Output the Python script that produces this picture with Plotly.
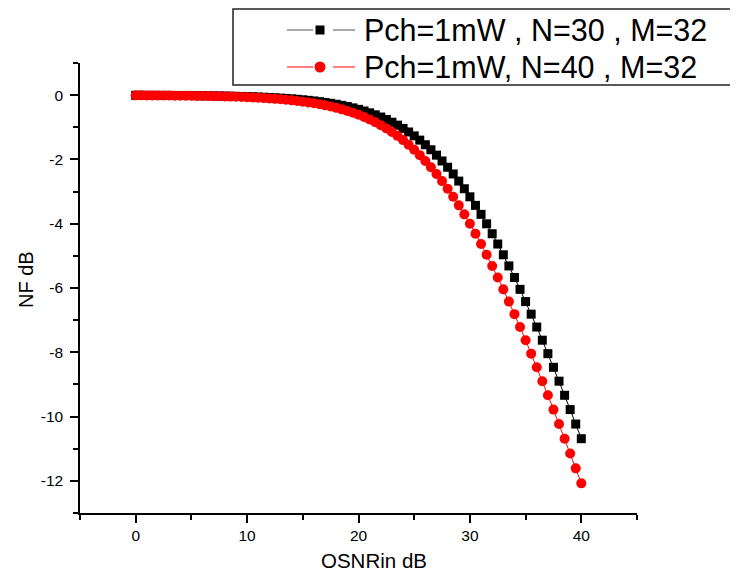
import plotly.graph_objects as go

osnr_in_db = [0, 0.5, 1, 1.5, 2, 2.5, 3, 3.5, 4, 4.5,
              5, 5.5, 6, 6.5, 7, 7.5, 8, 8.5, 9, 9.5,
              10, 10.5, 11, 11.5, 12, 12.5, 13, 13.5, 14, 14.5,
              15, 15.5, 16, 16.5, 17, 17.5, 18, 18.5, 19, 19.5,
              20, 20.5, 21, 21.5, 22, 22.5, 23, 23.5, 24, 24.5,
              25, 25.5, 26, 26.5, 27, 27.5, 28, 28.5, 29, 29.5,
              30, 30.5, 31, 31.5, 32, 32.5, 33, 33.5, 34, 34.5,
              35, 35.5, 36, 36.5, 37, 37.5, 38, 38.5, 39, 39.5,
              40]

nf_n30 = [-0.005, -0.005, -0.006, -0.007, -0.007, -0.008, -0.009, -0.010, -0.012, -0.013,
          -0.015, -0.017, -0.019, -0.021, -0.023, -0.026, -0.029, -0.033, -0.037, -0.041,
          -0.046, -0.052, -0.058, -0.065, -0.073, -0.082, -0.092, -0.103, -0.115, -0.129,
          -0.145, -0.162, -0.181, -0.203, -0.227, -0.254, -0.284, -0.318, -0.355, -0.396,
          -0.442, -0.493, -0.550, -0.612, -0.681, -0.758, -0.842, -0.934, -1.035, -1.146,
          -1.267, -1.399, -1.543, -1.699, -1.867, -2.048, -2.243, -2.452, -2.674, -2.912,
          -3.163, -3.429, -3.709, -4.003, -4.311, -4.632, -4.967, -5.313, -5.672, -6.042,
          -6.423, -6.814, -7.215, -7.624, -8.042, -8.467, -8.899, -9.338, -9.783, -10.233,
          -10.688]

nf_n40 = [-0.007, -0.007, -0.008, -0.009, -0.010, -0.012, -0.013,
          -0.015, -0.017, -0.019, -0.021, -0.023, -0.026, -0.029, -0.033, -0.037, -0.041,
          -0.046, -0.052, -0.058, -0.065, -0.073, -0.082, -0.092, -0.103, -0.115, -0.129,
          -0.145, -0.162, -0.181, -0.203, -0.227, -0.254, -0.284, -0.318, -0.355, -0.396,
          -0.442, -0.493, -0.550, -0.612, -0.681, -0.758, -0.842, -0.934, -1.035, -1.146,
          -1.267, -1.399, -1.543, -1.699, -1.867, -2.048, -2.243, -2.452, -2.674, -2.912,
          -3.163, -3.429, -3.709, -4.003, -4.311, -4.632, -4.967, -5.313, -5.672, -6.042,
          -6.423, -6.814, -7.215, -7.624, -8.042, -8.467, -8.899, -9.338, -9.783, -10.233,
          -10.688, -11.147, -11.611, -12.078]

series_names = ["Pch=1mW , N=30 , M=32", "Pch=1mW, N=40 , M=32"]
x_title = "OSNRin dB"
y_title = "NF dB"
x_tick_vals = [0, 10, 20, 30, 40]
x_tick_text = ["0", "10", "20", "30", "40"]
y_tick_vals = [0, -2, -4, -6, -8, -10, -12]
y_tick_text = ["0", "-2", "-4", "-6", "-8", "-10", "-12"]

# page body has an 8px margin; lay out in window pixels and shift
OFF = 8
W, H = 738 - OFF, 571 - OFF
PLOT_LEFT, PLOT_RIGHT, PLOT_TOP, PLOT_BOTTOM = 80, 637, 63, 513
L = PLOT_LEFT - OFF
R = W - (PLOT_RIGHT - OFF)
T = PLOT_TOP - OFF
B = H - (PLOT_BOTTOM - OFF)
PW, PH = W - L - R, H - T - B
FONT = "Arial, Liberation Sans, sans-serif"


def px(x):
    return (x - OFF - L) / PW


def py(y):
    return (H - B - (y - OFF)) / PH


fig = go.Figure()
fig.add_trace(go.Scatter(
    x=osnr_in_db, y=nf_n30, mode="lines+markers", name=series_names[0],
    line=dict(color="#000000", width=1),
    marker=dict(symbol="square", size=9, color="#000000"),
    showlegend=False))
fig.add_trace(go.Scatter(
    x=osnr_in_db, y=nf_n40, mode="lines+markers", name=series_names[1],
    line=dict(color="#ff0000", width=1),
    marker=dict(symbol="circle", size=10, color="#ff0000"),
    showlegend=False))

axis_common = dict(
    showline=True, linecolor="black", linewidth=1.5, mirror=False,
    showgrid=False, zeroline=False,
    ticks="outside", ticklen=8, tickwidth=1.5, tickcolor="black",
    tickfont=dict(family=FONT, size=15.5, color="black"),
)
fig.update_xaxes(range=[-5, 45], tickvals=x_tick_vals, ticktext=x_tick_text,
                 minor=dict(ticks="outside", ticklen=5, tickwidth=1.5,
                            tickcolor="black", dtick=5, tick0=-5),
                 **axis_common)
fig.update_yaxes(range=[-13, 1], tickvals=y_tick_vals, ticktext=y_tick_text,
                 ticklabelstandoff=4,
                 minor=dict(ticks="outside", ticklen=5, tickwidth=1.5,
                            tickcolor="black", dtick=1, tick0=-13),
                 **axis_common)

annotations = [
    dict(text=x_title, x=px(374), y=py(560), xref="paper", yref="paper",
         showarrow=False, xanchor="center", yanchor="middle",
         font=dict(family=FONT, size=20.5, color="black")),
    dict(text=y_title, x=px(26), y=py(280), xref="paper", yref="paper",
         showarrow=False, xanchor="center", yanchor="middle", textangle=-90,
         font=dict(family=FONT, size=20, color="black")),
]

shapes = [
    dict(type="rect", xref="paper", yref="paper",
         x0=px(233), x1=px(760), y0=py(9), y1=py(85),
         line=dict(color="#222222", width=1.5), fillcolor="white", layer="above"),
]

legend_rows = [(30, "#555555", "square", series_names[0]),
               (67, "#ff0000", "circle", series_names[1])]
for yc, col, sym, label in legend_rows:
    shapes.append(dict(type="line", xref="paper", yref="paper",
                       x0=px(287), x1=px(313), y0=py(yc), y1=py(yc),
                       line=dict(color=col, width=1), layer="above"))
    shapes.append(dict(type="line", xref="paper", yref="paper",
                       x0=px(333), x1=px(355), y0=py(yc), y1=py(yc),
                       line=dict(color=col, width=1), layer="above"))
    if sym == "square":
        shapes.append(dict(type="rect", xref="paper", yref="paper",
                           x0=px(315.5), x1=px(324.5), y0=py(yc - 4.5), y1=py(yc + 4.5),
                           line=dict(width=0), fillcolor="#000000", layer="above"))
    else:
        shapes.append(dict(type="circle", xref="paper", yref="paper",
                           x0=px(314.5), x1=px(325.5), y0=py(yc - 5.5), y1=py(yc + 5.5),
                           line=dict(width=0), fillcolor="#ff0000", layer="above"))
    annotations.append(dict(text=label, x=px(362), y=py(yc), xref="paper", yref="paper",
                            showarrow=False, xanchor="left", yanchor="middle",
                            font=dict(family=FONT, size=30.5, color="black")))

fig.update_layout(
    width=W, height=H,
    margin=dict(l=L, r=R, t=T, b=B, pad=0),
    paper_bgcolor="white", plot_bgcolor="white",
    showlegend=False,
    shapes=shapes, annotations=annotations,
)

fig.write_html("out.html")
